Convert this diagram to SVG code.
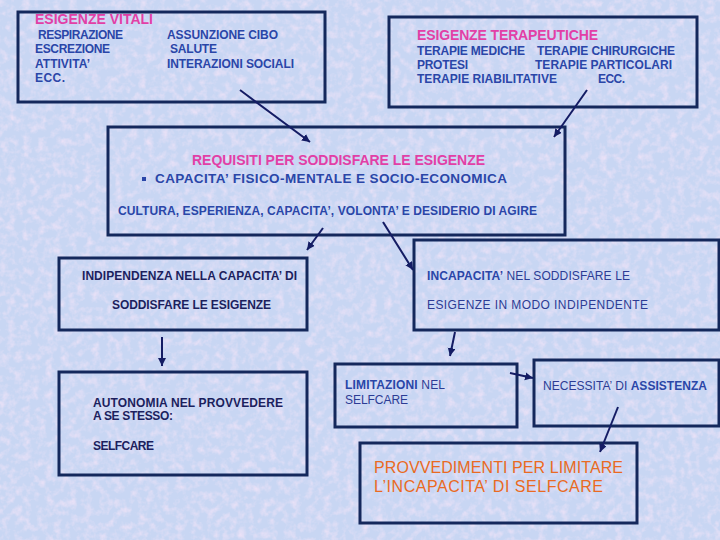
<svg xmlns="http://www.w3.org/2000/svg" width="720" height="540" viewBox="0 0 720 540">
<defs>
<filter id="tex" x="0" y="0" width="100%" height="100%">
<feTurbulence type="fractalNoise" baseFrequency="0.13" numOctaves="3" seed="4"/>
<feColorMatrix type="matrix" values="0 0 0 0 0.90  0 0 0 0 0.78  0 0 0 0 0.94  1.6 0 0 0 -0.68"/>
</filter>
<marker id="ah" markerWidth="9" markerHeight="9" refX="8" refY="4" orient="auto" markerUnits="userSpaceOnUse">
<path d="M0,0 L8,4 L0,8 z" fill="#141c64"/>
</marker>
<style>
.box{fill:none;stroke:#14285c;stroke-width:3}
.t{font-family:"Liberation Sans",Arial,sans-serif;font-size:12px}
.b{font-weight:bold}
.pink{fill:#e23fa6;font-size:14px}
.blue{fill:#2a46a8}
.navy{fill:#1c1f5e}
.mid{fill:#2c3c94}
.big{font-size:13.5px}
.orange{fill:#ea6a22;font-size:16px}
.arr{stroke:#141c64;stroke-width:2;fill:none;marker-end:url(#ah)}
</style>
</defs>
<rect width="720" height="540" fill="#c8d6f3"/>
<rect width="720" height="540" filter="url(#tex)"/>

<g id="esigenze-vitali">
<rect class="box" x="18" y="12" width="307" height="90"/>
<text class="t b pink" x="35" y="24" textLength="118">ESIGENZE VITALI</text>
<text class="t b blue" x="38" y="39" textLength="85">RESPIRAZIONE</text>
<text class="t b blue" x="35" y="53" textLength="75">ESCREZIONE</text>
<text class="t b blue" x="35" y="68" textLength="55">ATTIVITA’</text>
<text class="t b blue" x="35" y="82" textLength="30">ECC.</text>
<text class="t b blue" x="167" y="39" textLength="111">ASSUNZIONE CIBO</text>
<text class="t b blue" x="170" y="53" textLength="47">SALUTE</text>
<text class="t b blue" x="167" y="68" textLength="127">INTERAZIONI SOCIALI</text>
</g>

<g id="esigenze-terapeutiche">
<rect class="box" x="389" y="17" width="308" height="90"/>
<text class="t b pink" x="417" y="40" textLength="181">ESIGENZE TERAPEUTICHE</text>
<text class="t b blue" x="417" y="55" textLength="108">TERAPIE MEDICHE</text>
<text class="t b blue" x="537" y="55" textLength="138">TERAPIE CHIRURGICHE</text>
<text class="t b blue" x="417" y="69" textLength="51">PROTESI</text>
<text class="t b blue" x="535" y="69" textLength="137">TERAPIE PARTICOLARI</text>
<text class="t b blue" x="417" y="83" textLength="140">TERAPIE RIABILITATIVE</text>
<text class="t b blue" x="598" y="83" textLength="27">ECC.</text>
</g>

<g id="requisiti">
<rect class="box" x="108" y="127" width="457" height="108"/>
<text class="t b pink" x="192" y="165" textLength="293">REQUISITI PER SODDISFARE LE ESIGENZE</text>
<rect x="142" y="177" width="4" height="4" fill="#2a46a8"/>
<text class="t b blue big" x="155" y="183" textLength="352">CAPACITA’ FISICO-MENTALE E SOCIO-ECONOMICA</text>
<text class="t b blue" x="118" y="215" textLength="419">CULTURA, ESPERIENZA, CAPACITA’, VOLONTA’ E DESIDERIO DI AGIRE</text>
</g>

<g id="indipendenza">
<rect class="box" x="59" y="258" width="248" height="72"/>
<text class="t b navy" x="82" y="280" textLength="215">INDIPENDENZA NELLA CAPACITA’ DI</text>
<text class="t b navy" x="112" y="309" textLength="159">SODDISFARE LE ESIGENZE</text>
</g>

<g id="incapacita">
<rect class="box" x="414" y="240" width="305" height="90"/>
<text class="t mid" x="427" y="280" textLength="203"><tspan class="b blue">INCAPACITA’</tspan> NEL SODDISFARE LE</text>
<text class="t mid" x="427" y="309" textLength="221">ESIGENZE IN MODO INDIPENDENTE</text>
</g>

<g id="autonomia">
<rect class="box" x="59" y="372" width="248" height="103"/>
<text class="t b navy" x="93" y="407" textLength="190">AUTONOMIA  NEL  PROVVEDERE</text>
<text class="t b navy" x="93" y="420" textLength="80">A SE STESSO:</text>
<text class="t b navy" x="93" y="450" textLength="61">SELFCARE</text>
</g>

<g id="limitazioni">
<rect class="box" x="335" y="364" width="182" height="63"/>
<text class="t mid" x="345" y="389" textLength="100"><tspan class="b blue">LIMITAZIONI</tspan> NEL</text>
<text class="t mid" x="345" y="404" textLength="63">SELFCARE</text>
</g>

<g id="necessita">
<rect class="box" x="534" y="360" width="185" height="66"/>
<text class="t mid" x="543" y="390" textLength="164">NECESSITA’ DI <tspan class="b blue">ASSISTENZA</tspan></text>
</g>

<g id="provvedimenti">
<rect class="box" x="360" y="443" width="277" height="80"/>
<text class="t orange" x="374" y="473" textLength="249">PROVVEDIMENTI PER LIMITARE</text>
<text class="t orange" x="374" y="492" textLength="229">L’INCAPACITA’ DI SELFCARE</text>
</g>

<g id="connectors">
<line class="arr" x1="240" y1="90" x2="310" y2="142"/>
<line class="arr" x1="587" y1="90" x2="554" y2="137"/>
<line class="arr" x1="323" y1="228" x2="307" y2="250"/>
<line class="arr" x1="383" y1="222" x2="413" y2="270"/>
<line class="arr" x1="162" y1="337" x2="162" y2="366"/>
<line class="arr" x1="455" y1="332" x2="450" y2="356"/>
<line class="arr" x1="510" y1="373" x2="533" y2="378"/>
<line class="arr" x1="618" y1="407" x2="600" y2="452"/>
</g>
</svg>
